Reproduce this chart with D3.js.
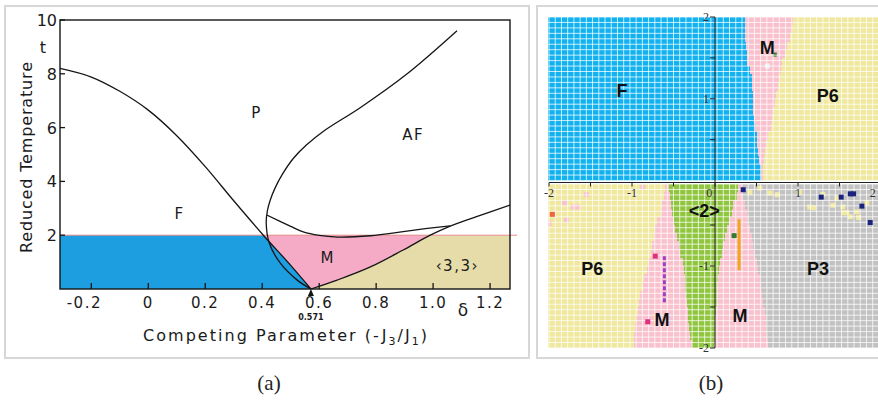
<!DOCTYPE html>
<html>
<head>
<meta charset="utf-8">
<script src="https://cdn.jsdelivr.net/npm/d3@7"></script>
<style>
  body { margin: 0; background: #fff; }
  svg { display: block; }
</style>
</head>
<body>
<svg id="fig" width="878" height="402"></svg>
<script>
// ---------- (a) phase diagram: boundary curves in (-J3/J1, t) ----------
const xTicksA = [-0.2, 0, 0.2, 0.4, 0.6, 0.8, 1.0, 1.2];
const xTickLabelsA = ["-0.2", "0", "0.2", "0.4", "0.6", "0.8", "1.0", "1.2"];
const yTicksA = [2, 4, 6, 8, 10];
const fLineX = [-0.31, -0.2, -0.1, 0, 0.1, 0.2, 0.3, 0.404, 0.5, 0.571];
const fLineT = [8.2, 7.88, 7.35, 6.65, 5.7, 4.55, 3.28, 2.0, 0.88, 0];
const afX = [0.571, 0.523, 0.463, 0.425, 0.414, 0.418, 0.428, 0.445, 0.47, 0.509, 0.555, 0.62, 0.744, 0.909, 1.084];
const afT = [0, 0.33, 0.97, 1.7, 2.45, 2.9, 3.3, 3.75, 4.25, 4.85, 5.35, 5.9, 6.74, 8.0, 9.6];
const bowlX = [0.416, 0.5, 0.544, 0.6, 0.663, 0.78, 0.895, 0.98, 1.06];
const bowlT = [2.75, 2.33, 2.12, 1.99, 1.93, 1.98, 2.13, 2.25, 2.35];
const mEdgeX = [0.571, 0.663, 0.78, 0.895, 0.99, 1.06, 1.15, 1.27];
const mEdgeT = [0, 0.33, 0.82, 1.45, 2.0, 2.34, 2.68, 3.12];
const lowTempLimit = 2;
const regionLabelsA = ["P", "AF", "F", "M", "‹3,3›"];
const regionLabelX = [0.38, 0.93, 0.11, 0.63, 1.085];
const regionLabelT = [6.35, 5.55, 2.6, 0.95, 0.67];

// ---------- (b) simulated phase map: boundaries per 0.1-high row ----------
const bTicks = [-2, -1.5, -1, -0.5, 0, 0.5, 1, 1.5, 2];
const bXLabels = ["-2", "-1", "0", "1", "2"];
const bXLabelVals = [-2, -1, -0.07, 1, 1.9];
const bYLabels = ["2", "1", "-1", "-2"];
const bYLabelVals = [2, 1, -1, -2];
// upper half, rows from y=2.0 down to y=0.0
const upperFM = [0.36, 0.36, 0.36, 0.37, 0.38, 0.39, 0.42, 0.44, 0.45, 0.46, 0.46, 0.46, 0.47, 0.48, 0.50, 0.51, 0.52, 0.53, 0.55, 0.55];
const upperMP6 = [0.94, 0.93, 0.90, 0.87, 0.84, 0.81, 0.79, 0.77, 0.76, 0.74, 0.72, 0.70, 0.69, 0.67, 0.64, 0.62, 0.60, 0.59, 0.58, 0.58];
// lower half, rows from y=0.0 down to y=-2.0
const lowerP6M = [-0.60, -0.62, -0.64, -0.65, -0.70, -0.72, -0.73, -0.76, -0.77, -0.80, -0.82, -0.85, -0.87, -0.90, -0.92, -0.93, -0.95, -0.96, -0.97, -0.98];
const lowerM2 = [-0.55, -0.54, -0.53, -0.52, -0.49, -0.48, -0.46, -0.43, -0.42, -0.38, -0.37, -0.36, -0.36, -0.35, -0.34, -0.33, -0.32, -0.31, -0.30, -0.28];
const lower2M = [0.28, 0.26, 0.22, 0.20, 0.17, 0.15, 0.12, 0.10, 0.08, 0.06, 0.05, 0.04, 0.03, 0.02, 0.02, 0.01, 0.00, 0.00, 0.00, -0.01];
const lowerMP3 = [0.32, 0.34, 0.36, 0.38, 0.40, 0.42, 0.44, 0.46, 0.47, 0.50, 0.52, 0.54, 0.55, 0.57, 0.58, 0.60, 0.62, 0.62, 0.63, 0.64];
// isolated cells
const speckX = [-1.81, -1.71, -1.65, -1.55, -1.79, -2.0, -0.87, 0.42, 0.54, 0.66, 0.75, 1.02, 1.14, 1.19, 1.30, 1.42, 1.47, 1.54, 1.55, 1.59, 1.63, 1.71, 1.73, 1.83];
const speckY = [-0.23, -0.28, -0.28, -0.13, -0.44, -0.48, -0.04, -0.10, -0.05, -0.11, -0.13, -0.10, -0.28, -0.29, -0.13, -0.26, -0.17, -0.28, -0.35, -0.35, -0.40, -0.34, -0.41, -0.23];
const speckKind = ["M", "M", "M", "M", "M", "M", "M", "P6", "P6", "P6", "P6", "P6", "P6", "P6", "P6", "P6", "P6", "P6", "P6", "P6", "P6", "P6", "P6", "P6"];
const dotX = [-1.96, -0.72, -0.81, 0.23, 0.34, 1.28, 1.52, 1.63, 1.67, 1.77, 1.87];
const dotY = [-0.37, -0.88, -1.68, -0.63, -0.07, -0.16, -0.16, -0.12, -0.12, -0.27, -0.47];
const dotColor = ["#f2623e", "#e0307c", "#e0307c", "#2e7d32", "#1a237e", "#1a237e", "#1a237e", "#1a237e", "#1a237e", "#1a237e", "#1a237e"];
const barX = [-0.61, 0.29];
const barY0 = [-0.88, -0.43];
const barY1 = [-1.45, -1.05];
const barColor = ["#9c3fc4", "#f2a31f"];
const labelsB = ["F", "M", "P6", "<2>", "P6", "M", "M", "P3"];
const labelBX = [-1.12, 0.63, 1.36, -0.13, -1.48, -0.64, 0.30, 1.24];
const labelBY = [1.11, 1.63, 1.05, -0.32, -1.02, -1.65, -1.6, -1.02];
const labelBHalf = ["U", "U", "U", "L", "L", "L", "L", "L"];

const colA = { F: "#1c9ee0", M: "#f5aac6", C33: "#e6dcaa" };
const colB = { F: "#11b2ef", M: "#f8c1cd", P6: "#efe89e", "<2>": "#90c63f", P3: "#c2c2c2" };

const svg = d3.select("#fig");

// panel frames
svg.append("rect").attr("x", 5).attr("y", 6).attr("width", 524).attr("height", 352)
  .attr("fill", "none").attr("stroke", "#d7d7d7").attr("stroke-width", 2);
svg.append("rect").attr("x", 537).attr("y", 6).attr("width", 360).attr("height", 352)
  .attr("fill", "none").attr("stroke", "#d7d7d7").attr("stroke-width", 2);

// ================= (a) =================
const xA = d3.scaleLinear().domain([-0.31, 1.27]).range([60, 510]);
const yA = d3.scaleLinear().domain([0, 10]).range([289, 20]);
const pts = (xs, ts) => xs.map((x, i) => [xA(x), yA(ts[i])]);
const smooth = d3.line().curve(d3.curveCatmullRom.alpha(0.5));
const gA = svg.append("g").attr("font-family", "DejaVu Sans, sans-serif").attr("fill", "#1a1a1a");

gA.append("clipPath").attr("id", "lowBand").append("rect")
  .attr("x", xA(-0.31)).attr("y", yA(lowTempLimit))
  .attr("width", xA(1.27) - xA(-0.31)).attr("height", yA(0) - yA(lowTempLimit));
const fills = gA.append("g").attr("clip-path", "url(#lowBand)");
fills.append("rect").attr("x", xA(-0.31)).attr("y", yA(lowTempLimit))
  .attr("width", xA(1.27) - xA(-0.31)).attr("height", yA(0) - yA(lowTempLimit))
  .attr("fill", colA.C33);
fills.append("path")
  .attr("d", smooth(pts(mEdgeX, mEdgeT)) + `L${xA(-0.31)},${yA(3.12)}L${xA(-0.31)},${yA(0)}Z`)
  .attr("fill", colA.M);
fills.append("path")
  .attr("d", smooth(pts(fLineX, fLineT)) + `L${xA(-0.31)},${yA(0)}Z`)
  .attr("fill", colA.F);

// t = 2 line
gA.append("line").attr("x1", xA(-0.31)).attr("x2", 517)
  .attr("y1", yA(lowTempLimit)).attr("y2", yA(lowTempLimit))
  .attr("stroke", "#e58c8c").attr("stroke-width", 1);

// boundaries
[[fLineX, fLineT], [afX, afT], [bowlX, bowlT], [mEdgeX, mEdgeT]].forEach(([xs, ts]) => {
  gA.append("path").attr("d", smooth(pts(xs, ts)))
    .attr("fill", "none").attr("stroke", "#151515").attr("stroke-width", 1.3);
});

// frame
gA.append("rect").attr("x", xA(-0.31)).attr("y", yA(10))
  .attr("width", xA(1.27) - xA(-0.31)).attr("height", yA(0) - yA(10))
  .attr("fill", "none").attr("stroke", "#151515").attr("stroke-width", 1.4);

// ticks
gA.selectAll(".xt").data(xTicksA).enter().append("line")
  .attr("x1", d => xA(d)).attr("x2", d => xA(d)).attr("y1", yA(0)).attr("y2", yA(0) - 6)
  .attr("stroke", "#151515").attr("stroke-width", 1.3);
gA.selectAll(".yt").data(yTicksA).enter().append("line")
  .attr("x1", xA(-0.31)).attr("x2", xA(-0.31) + 5).attr("y1", d => yA(d)).attr("y2", d => yA(d))
  .attr("stroke", "#151515").attr("stroke-width", 1.3);

gA.selectAll(".xl").data(xTicksA).enter().append("text")
  .attr("x", d => xA(d) - (d < 0 ? 7 : 0)).attr("y", 308).attr("text-anchor", "middle")
  .attr("font-size", 15).attr("letter-spacing", 1.5)
  .text((d, i) => xTickLabelsA[i]);
gA.selectAll(".yl").data(yTicksA).enter().append("text")
  .attr("x", 57).attr("y", d => yA(d) + 6).attr("text-anchor", "end")
  .attr("font-size", 16)
  .text(d => d);
gA.append("text").attr("x", 43).attr("y", 53).attr("text-anchor", "middle")
  .attr("font-size", 16).text("t");

// 0.571 marker
gA.append("path")
  .attr("d", `M${xA(0.571)},${yA(0)}l-3,7h6Z`).attr("fill", "#151515");
gA.append("text").attr("x", xA(0.571)).attr("y", 320).attr("text-anchor", "middle")
  .attr("font-size", 8).attr("font-weight", "bold").text("0.571");
gA.append("text").attr("x", 463).attr("y", 316).attr("text-anchor", "middle")
  .attr("font-size", 17).text("δ");

// axis titles
gA.append("text").attr("x", 143).attr("y", 341)
  .attr("font-size", 16).attr("textLength", 284).attr("lengthAdjust", "spacing")
  .html('Competing Parameter (-J<tspan font-size="11" dy="4">3</tspan><tspan dy="-4">/J</tspan><tspan font-size="11" dy="4">1</tspan><tspan dy="-4">)</tspan>');
gA.append("text").attr("transform", "translate(32,253) rotate(-90)")
  .attr("font-size", 16).attr("textLength", 191).attr("lengthAdjust", "spacing")
  .text("Reduced Temperature");

// region labels
gA.selectAll(".rl").data(regionLabelsA).enter().append("text")
  .attr("x", (d, i) => xA(regionLabelX[i])).attr("y", (d, i) => yA(regionLabelT[i]))
  .attr("text-anchor", "middle").attr("font-size", 15).attr("letter-spacing", 1.5)
  .text(d => d);

// ================= (b) =================
const xB = d3.scaleLinear().domain([-2, 2]).range([549, 881]);
const yU = d3.scaleLinear().domain([0, 2]).range([180.5, 17]);
const yL = d3.scaleLinear().domain([0, -2]).range([184, 348]);
const gB = svg.append("g");
gB.append("clipPath").attr("id", "mapClip").append("rect")
  .attr("x", 548).attr("y", 0).attr("width", 330).attr("height", 402);
const map = gB.append("g").attr("clip-path", "url(#mapClip)");
const xLeft = -2.01, xRight = 2.0;

function band(y, yTop, yBot, edges, phases) {
  const stops = [xLeft, ...edges, xRight];
  phases.forEach((p, k) => {
    const x0 = xB(stops[k]), x1 = xB(stops[k + 1]);
    if (x1 > x0) {
      map.append("rect").attr("x", x0).attr("width", x1 - x0)
        .attr("y", y(yTop)).attr("height", y(yBot) - y(yTop))
        .attr("fill", colB[p]).attr("shape-rendering", "crispEdges");
    }
  });
}
upperFM.forEach((fm, i) => {
  const top = 2 - 0.1 * i;
  band(yU, top, top - 0.1, [fm, upperMP6[i]], ["F", "M", "P6"]);
});
lowerP6M.forEach((a, i) => {
  const top = -0.1 * i;
  band(yL, top, top - 0.1, [a, lowerM2[i], lower2M[i], lowerMP3[i]], ["P6", "M", "<2>", "M", "P3"]);
});

// isolated cells
map.selectAll(".sp").data(speckX).enter().append("rect")
  .attr("x", (d, i) => xB(d) - 2.5).attr("y", (d, i) => yL(speckY[i]) - 2.5)
  .attr("width", 5).attr("height", 5)
  .attr("fill", (d, i) => colB[speckKind[i]]);
map.append("rect").attr("x", xB(0.72) - 2).attr("y", yU(1.54) - 2).attr("width", 4).attr("height", 4).attr("fill", "#2e7d32");
map.append("rect").attr("x", xB(0.63) - 2.5).attr("y", yU(1.40) - 2.5).attr("width", 5).attr("height", 5).attr("fill", "#eef0f6");

// cell grid
const gx = d3.range(-2, 2.001, 0.075);
const gyU = d3.range(0, 2.001, 1 / 15);
const gyL = d3.range(0, -2.001, -1 / 15);
const grid = map.append("g").attr("stroke", "#ffffff").attr("stroke-width", 1).attr("stroke-opacity", 0.75);
gx.forEach(v => {
  grid.append("line").attr("x1", xB(v)).attr("x2", xB(v)).attr("y1", yU(2)).attr("y2", yU(0));
  grid.append("line").attr("x1", xB(v)).attr("x2", xB(v)).attr("y1", yL(0)).attr("y2", yL(-2));
});
gyU.forEach(v => grid.append("line").attr("x1", xB(xLeft)).attr("x2", 878).attr("y1", yU(v)).attr("y2", yU(v)));
gyL.forEach(v => grid.append("line").attr("x1", xB(xLeft)).attr("x2", 878).attr("y1", yL(v)).attr("y2", yL(v)));

// coloured dots and bars
map.selectAll(".dt").data(dotX).enter().append("rect")
  .attr("x", (d, i) => xB(d) - 2.5).attr("y", (d, i) => yL(dotY[i]) - 2.5)
  .attr("width", 5).attr("height", 5).attr("fill", (d, i) => dotColor[i]);
barX.forEach((bx, i) => {
  map.append("line").attr("x1", xB(bx)).attr("x2", xB(bx))
    .attr("y1", yL(barY0[i])).attr("y2", yL(barY1[i]))
    .attr("stroke", barColor[i]).attr("stroke-width", 3)
    .attr("stroke-dasharray", i === 0 ? "4,2" : null);
});

// axes
const axisY = 182.5;
gB.append("line").attr("x1", xB(-2)).attr("x2", 878).attr("y1", axisY).attr("y2", axisY)
  .attr("stroke", "#222").attr("stroke-width", 1);
gB.append("line").attr("x1", xB(0)).attr("x2", xB(0)).attr("y1", yU(2)).attr("y2", yL(-2))
  .attr("stroke", "#222").attr("stroke-width", 1);
gB.selectAll(".bxt").data(bTicks).enter().append("line")
  .attr("x1", d => xB(d)).attr("x2", d => xB(d)).attr("y1", axisY).attr("y2", axisY + 4)
  .attr("stroke", "#222");
const yTickVals = [0.5, 1, 1.5, 2].map(v => yU(v)).concat([-0.5, -1, -1.5, -2].map(v => yL(v)));
gB.selectAll(".byt").data(yTickVals).enter().append("line")
  .attr("x1", xB(0) - 5).attr("x2", xB(0)).attr("y1", d => d).attr("y2", d => d)
  .attr("stroke", "#222");
gB.selectAll(".bxl").data(bXLabels).enter().append("text")
  .attr("x", (d, i) => xB(bXLabelVals[i])).attr("y", 197).attr("text-anchor", "middle")
  .attr("font-family", "Liberation Serif, serif").attr("font-size", 12).attr("fill", "#333")
  .text(d => d);
gB.selectAll(".byl").data(bYLabels).enter().append("text")
  .attr("x", xB(0) - 6).attr("y", (d, i) => (bYLabelVals[i] > 0 ? yU(bYLabelVals[i]) : yL(bYLabelVals[i])) + 4)
  .attr("text-anchor", "end")
  .attr("font-family", "Liberation Serif, serif").attr("font-size", 12).attr("fill", "#333")
  .text(d => d);

// phase labels
gB.selectAll(".pl").data(labelsB).enter().append("text")
  .attr("x", (d, i) => xB(labelBX[i]))
  .attr("y", (d, i) => (labelBHalf[i] === "U" ? yU(labelBY[i]) : yL(labelBY[i])) + 7)
  .attr("text-anchor", "middle")
  .attr("font-family", "Liberation Sans, Arial, sans-serif").attr("font-weight", "bold")
  .attr("font-size", 18).attr("fill", "#111")
  .text(d => d);

// captions
svg.selectAll(".cap").data(["(a)", "(b)"]).enter().append("text")
  .attr("x", (d, i) => [269, 711][i]).attr("y", 390).attr("text-anchor", "middle")
  .attr("font-family", "Liberation Serif, serif").attr("font-size", 21).attr("fill", "#222")
  .text(d => d);
</script>
</body>
</html>
